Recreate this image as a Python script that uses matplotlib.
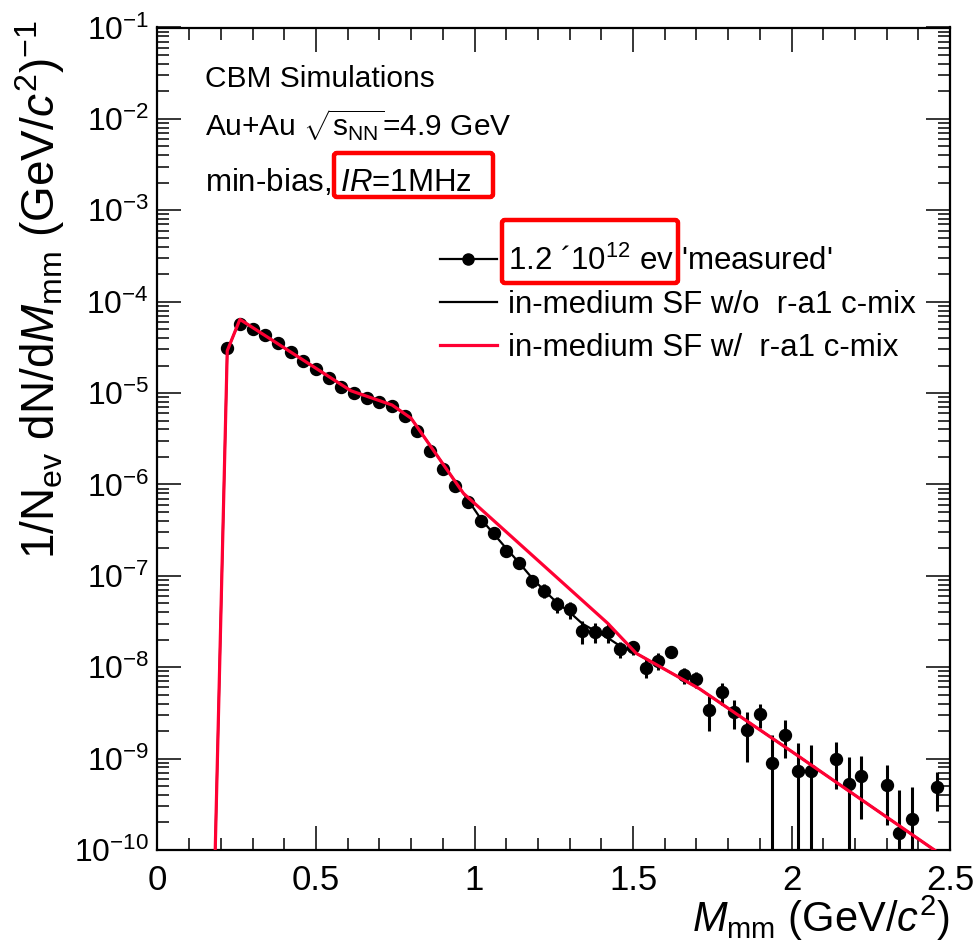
import matplotlib
matplotlib.use("Agg")
import matplotlib.pyplot as plt
from matplotlib import font_manager
from matplotlib.lines import Line2D
from matplotlib.patches import FancyBboxPatch
from matplotlib.ticker import MultipleLocator, LogLocator, NullFormatter, FuncFormatter

# dilepton invariant-mass spectrum, 'measured' points (bins without entries left out)
mass = [0.22, 0.26, 0.30, 0.34, 0.38, 0.42, 0.46, 0.50, 0.54, 0.58,
        0.62, 0.66, 0.70, 0.74, 0.78, 0.82, 0.86, 0.90, 0.94, 0.98,
        1.02, 1.06, 1.10, 1.14, 1.18, 1.22, 1.26, 1.30, 1.34, 1.38,
        1.42, 1.46, 1.50, 1.54, 1.58, 1.62, 1.66, 1.70, 1.74, 1.78,
        1.82, 1.86, 1.90, 1.94, 1.98, 2.02, 2.06, 2.14, 2.18, 2.22,
        2.30, 2.34, 2.38, 2.46]
yields = [3.1e-5, 5.7e-5, 5.0e-5, 4.3e-5, 3.5e-5, 2.84e-5, 2.26e-5, 1.82e-5, 1.45e-5, 1.17e-5,
          9.96e-6, 8.9e-6, 8.05e-6, 7.2e-6, 5.6e-6, 3.8e-6, 2.34e-6, 1.49e-6, 9.5e-7, 6.4e-7,
          3.99e-7, 2.92e-7, 1.89e-7, 1.37e-7, 8.85e-8, 6.9e-8, 4.89e-8, 4.31e-8, 2.51e-8, 2.43e-8,
          2.45e-8, 1.57e-8, 1.65e-8, 9.9e-9, 1.18e-8, 1.47e-8, 8.2e-9, 7.4e-9, 3.4e-9, 5.3e-9,
          3.24e-9, 2.06e-9, 3.06e-9, 9.0e-10, 1.82e-9, 7.4e-10, 7.4e-10, 9.9e-10, 5.3e-10, 6.4e-10,
          5.2e-10, 1.55e-10, 2.17e-10, 4.86e-10]
yield_err = [3e-7, 4e-7, 4e-7, 3.5e-7, 3e-7, 2.8e-7, 2.5e-7, 2.2e-7, 2e-7, 1.8e-7,
             1.6e-7, 1.5e-7, 1.4e-7, 1.3e-7, 1.2e-7, 1e-7, 8e-8, 6e-8, 5e-8, 4e-8,
             3e-8, 2.5e-8, 2e-8, 1.7e-8, 1.4e-8, 1.2e-8, 1e-8, 9e-9, 7e-9, 6e-9,
             6e-9, 3.1e-9, 3e-9, 2.3e-9, 2.5e-9, 2e-9, 1.6e-9, 1.5e-9, 1.4e-9, 1.4e-9,
             1.15e-9, 1.15e-9, 0.9e-9, 0.92e-9, 0.8e-9, 0.75e-9, 0.68e-9, 0.53e-9, 0.5e-9, 0.42e-9,
             0.33e-9, 0.3e-9, 0.27e-9, 0.22e-9]

# in-medium spectral function, without rho-a1 chiral mixing
wo_mass = [0.18, 0.22, 0.26, 0.61, 0.74, 0.80, 0.965, 1.02, 1.06, 1.10,
           1.14, 1.18, 1.22, 1.26, 1.30, 1.34, 1.38, 1.42, 1.46, 1.51,
           1.71, 2.00, 2.46]
wo_yield = [5e-11, 2.9e-5, 6.4e-5, 1.06e-5, 7.4e-6, 5.3e-6, 8.0e-7, 4.2e-7, 2.9e-7, 2.0e-7,
            1.4e-7, 9.6e-8, 6.9e-8, 5.1e-8, 4.0e-8, 3.0e-8, 2.5e-8, 2.1e-8, 1.7e-8, 1.42e-8,
            5.8e-9, 1.2e-9, 9.5e-11]

# same with rho-a1 chiral mixing
w_mass = [0.18, 0.22, 0.26, 0.61, 0.74, 0.80, 0.965, 1.42, 1.51, 1.71, 2.00, 2.46]
w_yield = [5e-11, 2.9e-5, 6.4e-5, 1.06e-5, 7.4e-6, 5.3e-6, 8.0e-7, 3.03e-8, 1.42e-8,
           5.8e-9, 1.2e-9, 9.5e-11]

legend_labels = ["1.2 \u00b410$^{12}$ ev 'measured'",
                 "in-medium SF w/o  r-a1 c-mix",
                 "in-medium SF w/  r-a1 c-mix"]

RED = "#ff0033"

installed = {f.name for f in font_manager.fontManager.ttflist}
narrow = "Liberation Sans Narrow" if "Liberation Sans Narrow" in installed else "Liberation Sans"

plt.rcParams["font.family"] = "Liberation Sans"
plt.rcParams["mathtext.fontset"] = "custom"
plt.rcParams["mathtext.rm"] = "Liberation Sans"
plt.rcParams["mathtext.it"] = "Liberation Sans:italic"
plt.rcParams["mathtext.bf"] = "Liberation Sans:bold"

W, H = 979, 951
fig = plt.figure(figsize=(W / 100, H / 100), dpi=100)
ax = fig.add_axes([157.5 / W, 101 / H, 792.5 / W, 822.5 / H])

ax.errorbar(mass, yields, yerr=yield_err, fmt="o", color="black", ms=8.6,
            elinewidth=2.2, capsize=0, zorder=3)
ax.plot(wo_mass, wo_yield, color="black", lw=1.6, zorder=4)
ax.plot(w_mass, w_yield, color=RED, lw=2.3, zorder=5)

ax.set_yscale("log")
ax.set_xlim(0, 2.5)
ax.set_ylim(1e-10, 1e-1)

ax.xaxis.set_major_locator(MultipleLocator(0.5))
ax.xaxis.set_minor_locator(MultipleLocator(0.1))
ax.xaxis.set_major_formatter(FuncFormatter(lambda v, p: f"{v:g}"))
ax.yaxis.set_major_locator(LogLocator(base=10, numticks=20))
ax.yaxis.set_minor_locator(LogLocator(base=10, subs=range(2, 10), numticks=20))
ax.yaxis.set_minor_formatter(NullFormatter())

ax.tick_params(which="both", direction="in", top=True, right=True, width=1.1)
ax.tick_params(which="major", length=17)
ax.tick_params(which="minor", length=8.5)
ax.tick_params(axis="x", which="major", pad=10, labelsize=25)
ax.tick_params(axis="y", which="major", pad=6, labelsize=23)
for lab in ax.get_xticklabels():
    lab.set_fontfamily(narrow)
for sp in ax.spines.values():
    sp.set_linewidth(1.6)

fig.text(950 / W, 1 - 932 / H, r"$M_{\mathrm{mm}}$ (GeV/$c^{2}$)", fontsize=30,
         family=narrow, ha="right", va="baseline")
fig.text(40 / W, 1 - 20 / H,
         r"1/N$_{\mathrm{ev}}$ dN/d$M_{\mathrm{mm}}$ (GeV/$c^{2}$)$^{-1}$",
         fontsize=33, family=narrow, rotation=90, ha="center", va="top")

ax.text(0.06, 0.9277, "CBM Simulations", transform=ax.transAxes, fontsize=21.5, va="baseline")
ax.text(0.06, 0.868, r"Au+Au $\sqrt{\mathrm{s}_{\mathrm{NN}}}$=4.9 GeV",
        transform=ax.transAxes, fontsize=21.5, va="baseline")
ax.text(0.06, 0.801, r"min-bias, $\mathit{IR}$=1MHz", transform=ax.transAxes,
        fontsize=22.5, va="baseline")

handles = [Line2D([], [], color="black", marker="o", ms=8, lw=1.6),
           Line2D([], [], color="black", lw=1.6),
           Line2D([], [], color=RED, lw=2.3)]
ax.legend(handles, legend_labels, loc="upper left", bbox_to_anchor=(282 / 792.5, 1 - 218 / 822.5),
          frameon=False, fontsize=22.5, handlelength=1.85, handletextpad=0.35,
          labelspacing=0.42, borderpad=0, borderaxespad=0)

# highlight boxes
for x0, y0, x1, y1 in [(502, 220, 678, 283), (334, 153, 493, 197)]:
    fig.add_artist(FancyBboxPatch((x0 / W, 1 - y1 / H), (x1 - x0) / W, (y1 - y0) / H,
                                  boxstyle="round,pad=0,rounding_size=0.003",
                                  transform=fig.transFigure, fill=False,
                                  edgecolor="#ff0000", lw=3.2, zorder=10))

fig.savefig("out.png", dpi=100)
